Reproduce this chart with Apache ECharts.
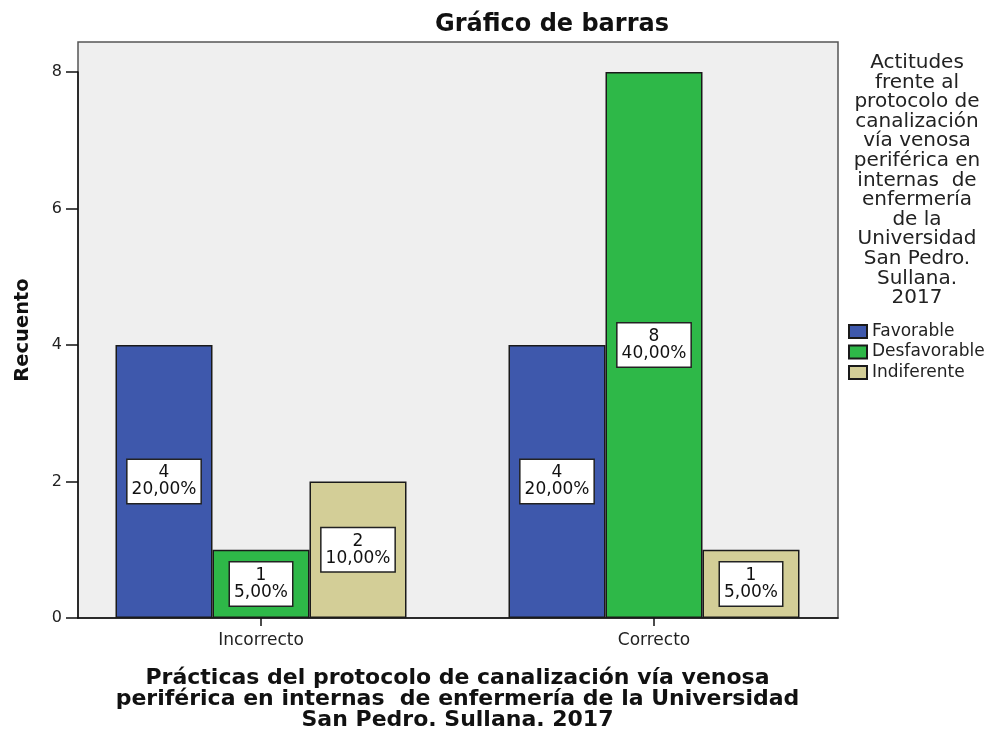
<!DOCTYPE html>
<html>
<head>
<meta charset="utf-8">
<script src="https://cdn.jsdelivr.net/npm/echarts@6/dist/echarts.min.js"></script>
<style>
  html, body { margin: 0; padding: 0; background: #fff; }
  #chart { width: 992px; height: 731px; }
</style>
</head>
<body>
<div id="chart"></div>
<script>
// datos
const categories = ['Incorrecto', 'Correcto']
const seriesNames = ['Favorable', 'Desfavorable', 'Indiferente']
const favorable = [4, 4]
const desfavorable = [1, 8]
const indiferente = [2, 1]
const favorablePct = ['20,00%', '20,00%']
const desfavorablePct = ['5,00%', '40,00%']
const indiferentePct = ['10,00%', '5,00%']
const yTicks = [0, 2, 4, 6, 8]

const colors = ['#3e58ac', '#2eb848', '#d3ce97']
const font = 'DejaVu Sans'

const legendTitle = 'Actitudes\nfrente al\nprotocolo de\ncanalización\nvía venosa\nperiférica en\ninternas  de\nenfermería\nde la\nUniversidad\nSan Pedro.\nSullana.\n2017'
const xName = 'Prácticas del protocolo de canalización vía venosa\nperiférica en internas  de enfermería de la Universidad\nSan Pedro. Sullana. 2017'

function makeSeries(name, values, pcts, color) {
  return {
    name: name,
    type: 'bar',
    xAxisIndex: 0,
    yAxisIndex: 0,
    barWidth: 97,
    barGap: '0%',
    itemStyle: { color: color, borderColor: '#1a1a1a', borderWidth: 1.5 },
    label: {
      show: true,
      position: 'inside',
      formatter: p => p.value + '\n' + pcts[p.dataIndex],
      color: '#111',
      fontFamily: font,
      fontSize: 17,
      lineHeight: 17,
      align: 'center',
      backgroundColor: '#fff',
      borderColor: '#222',
      borderWidth: 1.5,
      padding: [5, 4, 4, 4]
    },
    emphasis: { disabled: true },
    data: values
  }
}

const chart = echarts.init(document.getElementById('chart'))
chart.setOption({
  animation: false,
  textStyle: { fontFamily: font },
  title: [
    {
      text: 'Gráfico de barras',
      left: 552,
      top: 13,
      padding: 0,
      textAlign: 'center',
      textStyle: { fontFamily: font, fontSize: 24, fontWeight: 'bold', color: '#111' }
    },
    {
      text: legendTitle,
      left: 917,
      top: 53,
      padding: 0,
      textAlign: 'center',
      textStyle: { fontFamily: font, fontSize: 20, lineHeight: 19.6, fontWeight: 'normal', color: '#222' }
    }
  ],
  legend: {
    orient: 'vertical',
    left: 848,
    top: 323,
    padding: 0,
    itemWidth: 18,
    itemHeight: 13,
    itemGap: 3.5,
    icon: 'rect',
    textStyle: { fontFamily: font, fontSize: 17, color: '#222' },
    data: seriesNames
  },
  graphic: [
    {
      type: 'text',
      x: 23,
      y: 330,
      rotation: Math.PI / 2,
      style: {
        text: 'Recuento',
        fontFamily: font,
        fontSize: 19.5,
        fontWeight: 'bold',
        fill: '#111',
        textAlign: 'center',
        textVerticalAlign: 'middle'
      }
    }
  ],
  grid: [
    // area de barras
    { left: 64.5, right: 141.5, top: 72, bottom: 113, outerBoundsMode: 'none', containLabel: false },
    // marco del grafico
    { left: 78, right: 154, top: 42, bottom: 113, outerBoundsMode: 'none', show: true, backgroundColor: '#efefef', borderColor: '#555', borderWidth: 1.5 }
  ],
  xAxis: [
    {
      type: 'category',
      gridIndex: 0,
      data: categories,
      axisLine: { show: false },
      axisTick: { show: true, alignWithLabel: true, length: 8, lineStyle: { color: '#111', width: 1.5 } },
      axisLabel: { fontFamily: font, fontSize: 17, color: '#222', margin: 14 },
      name: xName,
      nameLocation: 'middle',
      nameGap: 50,
      nameTextStyle: { fontFamily: font, fontSize: 22, fontWeight: 'bold', lineHeight: 21, color: '#111', verticalAlign: 'top' }
    },
    {
      type: 'value',
      gridIndex: 1,
      min: 0,
      max: 1,
      axisLine: { show: true, lineStyle: { color: '#111', width: 1.5 } },
      axisTick: { show: false },
      axisLabel: { show: false },
      splitLine: { show: false }
    }
  ],
  yAxis: [
    {
      type: 'value',
      gridIndex: 0,
      min: yTicks[0],
      max: yTicks[yTicks.length - 1],
      interval: 2,
      offset: -13.5,
      axisLine: { show: true, lineStyle: { color: '#111', width: 1.5 } },
      axisTick: { show: true, length: 12, lineStyle: { color: '#111', width: 1.5 } },
      axisLabel: { fontFamily: font, fontSize: 16, color: '#222', margin: 16 },
      splitLine: { show: false }
    },
    {
      type: 'value',
      gridIndex: 1,
      show: false
    }
  ],
  series: [
    makeSeries(seriesNames[0], favorable, favorablePct, colors[0]),
    makeSeries(seriesNames[1], desfavorable, desfavorablePct, colors[1]),
    makeSeries(seriesNames[2], indiferente, indiferentePct, colors[2])
  ]
})
</script>
</body>
</html>
